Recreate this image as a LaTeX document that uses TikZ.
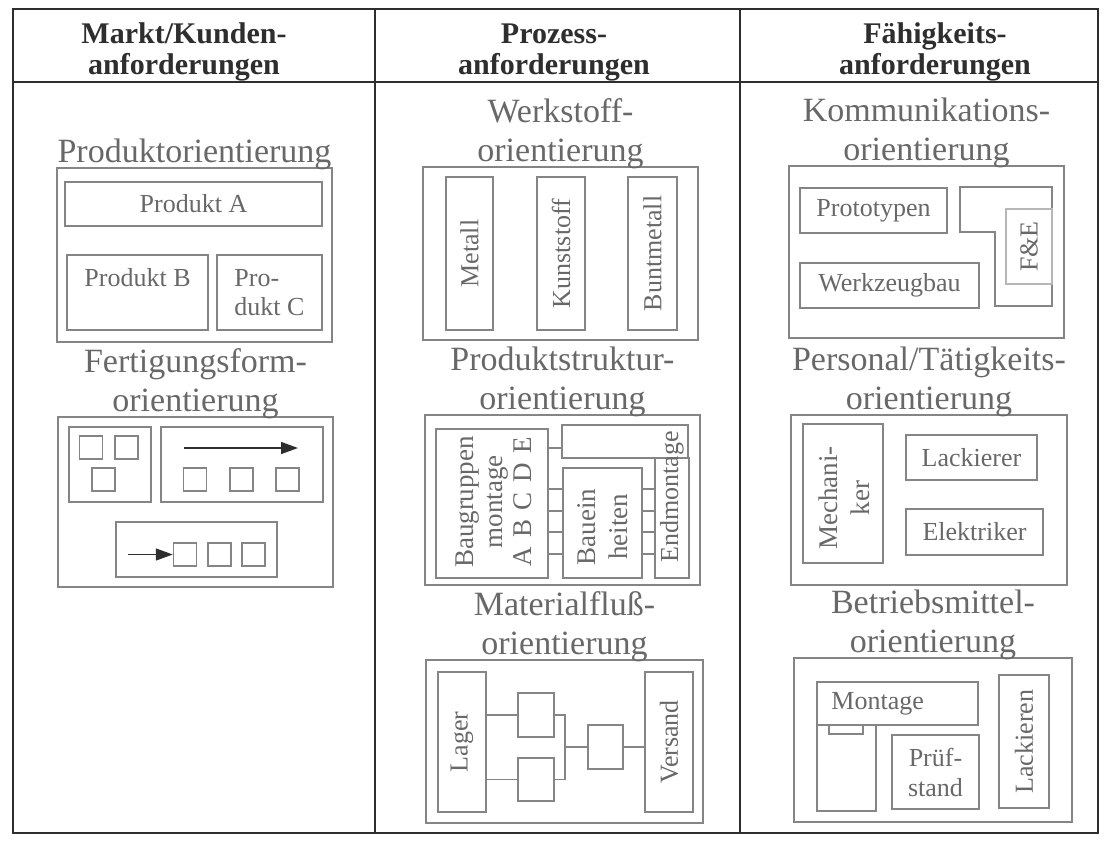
\documentclass[tikz,border=0pt]{standalone}
\usepackage{fontspec}
\setmainfont{Liberation Serif}
\usetikzlibrary{positioning, arrows.meta}

\definecolor{dunkel}{HTML}{2E2E2E}
\definecolor{linie}{HTML}{858585}
\definecolor{schrift}{HTML}{686868}

\tikzstyle{rahmen} = [draw=dunkel, line width=2.4pt]
\tikzstyle{header} = [text=dunkel, font=\bfseries\fontsize{30}{31}\selectfont, align=center, inner sep=0pt]
\tikzstyle{subtitle} = [text=schrift, font=\fontsize{34}{39}\selectfont, align=center, inner sep=0pt]
\tikzstyle{box} = [rectangle, draw=linie, line width=1.5pt, inner sep=0pt]
\tikzstyle{txt} = [text=schrift, font=\fontsize{26}{30}\selectfont, align=center, inner sep=0pt]
\tikzstyle{sq} = [rectangle, draw=linie, line width=1.5pt, minimum width=23pt, minimum height=23pt, inner sep=0pt]
\tikzstyle{link} = [draw=linie, line width=1.5pt]
\tikzstyle{pfeil} = [draw=dunkel, line width=1.6pt, -{Triangle[length=17pt,width=12pt]}]

\begin{document}
\begin{tikzpicture}[x=1pt, y=-1pt]
        \useasboundingbox (0,0) rectangle (1104,841);

        % Tabelle
        \draw [rahmen] (13,9) rectangle (1098,833);
        \draw [rahmen] (13,82) -- (1098,82);
        \draw [rahmen] (375,9) -- (375,833);
        \draw [rahmen] (740,9) -- (740,833);

        % Kopfzeile
        \node (markt) [header] at (184,52) {Markt/Kunden-\\anforderungen};
        \node (prozess) [header] at (554,52) {Prozess-\\anforderungen};
        \node (faehig) [header] at (935,52) {Fähigkeits-\\anforderungen};

        % Spalte 1: Produktorientierung
        \node (prodbox) [box, minimum width=275pt, minimum height=174pt] at (194.5,255) {};
        \node (prodtitel) [subtitle, above=-3pt of prodbox] {Produktorientierung};
        \node (prodA) [box, txt, minimum width=257pt, minimum height=44pt] at (193.5,204) {Produkt A};
        \node (prodB) [box, minimum width=141pt, minimum height=75pt] at (137.5,292.5) {};
        \node (prodC) [box, minimum width=105pt, minimum height=75pt] at (269.5,292.5) {};
        \node (txtB) [txt, below=14pt of prodB.north] {Produkt B};
        \node (txtC) [txt, align=left, font=\fontsize{26}{29}\selectfont, below=15pt of prodC.north] {Pro-\\dukt C};

        % Spalte 1: Fertigungsformorientierung
        \node (fertbox) [box, minimum width=275pt, minimum height=170pt] at (195.5,502) {};
        \node (ferttitel) [subtitle, above=-3pt of fertbox] {Fertigungsform-\\orientierung};
        \node (werkst) [box, minimum width=82pt, minimum height=75pt] at (110,464.5) {};
        \node (reihe) [box, minimum width=162pt, minimum height=75pt] at (242,464.5) {};
        \node (fliess) [box, minimum width=161pt, minimum height=55pt] at (196.5,549.5) {};
        \node (w1) [sq] at (91,447.5) {};
        \node (w2) [sq] at (126.5,447.5) {};
        \node (w3) [sq] at (103.5,479.5) {};
        \node (r1) [sq] at (195,479.5) {};
        \node (r2) [sq] at (241.5,479.5) {};
        \node (r3) [sq] at (287.5,479.5) {};
        \node (f1) [sq] at (185,554.5) {};
        \node (f2) [sq] at (219.5,554.5) {};
        \node (f3) [sq] at (253.5,554.5) {};
        \coordinate (ra) at (184,448);
        \coordinate (rb) at (298,448);
        \coordinate (fa) at (128,554.5);
        \draw [pfeil] (ra) -- (rb);
        \draw [pfeil] (fa) -- (f1.west);

        % Spalte 2: Werkstofforientierung
        \node (wbox) [box, minimum width=275pt, minimum height=173pt] at (560.5,253.5) {};
        \node (wtitel) [subtitle, above=-3pt of wbox] {Werkstoff-\\orientierung};
        \node (metall) [box, minimum width=47pt, minimum height=153pt] at (469.5,253.5) {};
        \node (kunst) [box, minimum width=48pt, minimum height=153pt] at (561,253.5) {};
        \node (bunt) [box, minimum width=49pt, minimum height=153pt] at (652.5,253.5) {};
        \node (tmetall) [txt, rotate=90] at (metall) {Metall};
        \node (tkunst) [txt, rotate=90] at (kunst) {Kunststoff};
        \node (tbunt) [txt, rotate=90] at (bunt) {Buntmetall};

        % Spalte 2: Produktstrukturorientierung
        \node (pbox) [box, minimum width=275pt, minimum height=170pt] at (562.5,500) {};
        \node (ptitel) [subtitle, above=-3pt of pbox] {Produktstruktur-\\orientierung};
        \node (baugr) [box, minimum width=112pt, minimum height=149pt] at (492,503.5) {};
        \node (topbox) [box, minimum width=126pt, minimum height=33pt] at (625,441.5) {};
        \node (bauein) [box, minimum width=79pt, minimum height=110pt] at (602.5,523) {};
        \node (endm) [box, minimum width=34pt, minimum height=120pt] at (672,518) {};
        \node (tbaugr) [txt, rotate=90, font=\fontsize{27}{29}\selectfont] at (493.5,502) {Baugruppen\\montage\\A\hspace{0.35em}B\hspace{0.35em}C\hspace{0.35em}D\hspace{0.35em}E};
        \node (tbauein) [txt, rotate=90, font=\fontsize{27}{32}\selectfont] at (602.5,527) {Bauein\\heiten};
        \node (tendm) [txt, rotate=90] at ([yshift=21pt]endm.center) {Endmontage};
        \draw [link] (baugr.east |- 0,448) -- (topbox.west |- 0,448);
        \foreach \y in {489,511,532,554} {
            \draw [link] (baugr.east |- 0,\y) -- (bauein.west |- 0,\y);
            \draw [link] (bauein.east |- 0,\y) -- (endm.west |- 0,\y);
        }

        % Spalte 2: Materialflussorientierung
        \node (mbox) [box, minimum width=277pt, minimum height=163pt] at (564.5,741.5) {};
        \node (mtitel) [subtitle, above=-3pt of mbox] {Materialfluß-\\orientierung};
        \node (lager) [box, minimum width=48pt, minimum height=140pt] at (462,742) {};
        \node (versand) [box, minimum width=48pt, minimum height=140pt] at (669,742) {};
        \node (tlager) [txt, rotate=90] at (lager) {Lager};
        \node (tversand) [txt, rotate=90] at (versand) {Versand};
        \node (mf1) [box, minimum width=36pt, minimum height=44pt] at (536,715) {};
        \node (mf2) [box, minimum width=36pt, minimum height=43pt] at (536,779.5) {};
        \node (mf3) [box, minimum width=35pt, minimum height=44pt] at (605.5,747) {};
        \coordinate (knoten) at (565,747);
        \draw [link] (lager.east |- mf1) -- (mf1.west);
        \draw [link] (lager.east |- mf2) -- (mf2.west);
        \draw [link] (mf1.east) -| (knoten) |- (mf2.east);
        \draw [link] (knoten) -- (mf3.west);
        \draw [link] (mf3.east) -- (versand.west |- mf3);

        % Spalte 3: Kommunikationsorientierung
        \node (kbox) [box, minimum width=275pt, minimum height=172pt] at (926.5,252) {};
        \node (ktitel) [subtitle, above=-3pt of kbox] {Kommunikations-\\orientierung};
        \node (proto) [box, txt, minimum width=147pt, minimum height=45pt] at (873.5,210.5) {Prototypen};
        \node (wzb) [box, txt, minimum width=179pt, minimum height=45pt] at (889.5,285.5) {Werkzeugbau};
        \draw [link] (960,187) -- (1052,187) -- (1052,306) -- (995,306) -- (995,232) -- (960,232) -- cycle;
        \node (fe) [box, txt, draw=linie!60, minimum width=46pt, minimum height=75pt] at (1029,246.5) {};
        \node (tfe) [txt, rotate=90] at (fe) {F\&E};

        % Spalte 3: Personal/Taetigkeitsorientierung
        \node (perbox) [box, minimum width=276pt, minimum height=170pt] at (929,500) {};
        \node (pertitel) [subtitle, above=-3pt of perbox] {Personal/Tätigkeits-\\orientierung};
        \node (mech) [box, minimum width=80pt, minimum height=139pt] at (843,493.5) {};
        \node (tmech) [txt, rotate=90, font=\fontsize{27}{32}\selectfont] at (844,498) {Mechani-\\ker};
        \node (lack) [box, txt, minimum width=131pt, minimum height=45pt] at (971.5,457.5) {Lackierer};
        \node (elek) [box, txt, minimum width=137pt, minimum height=46pt] at (974.5,532) {Elektriker};

        % Spalte 3: Betriebsmittelorientierung
        \node (bbox) [box, minimum width=278pt, minimum height=164pt] at (933,740) {};
        \node (btitel) [subtitle, above=-3pt of bbox] {Betriebsmittel-\\orientierung};
        \node (mont) [box, minimum width=161pt, minimum height=43pt] at (897.5,703.5) {};
        \node (tmont) [txt, right=15pt of mont.west] {Montage};
        \node (unten) [box, minimum width=59pt, minimum height=86pt] at (846.5,768) {};
        \node (kerbe) [box, minimum width=34pt, minimum height=9pt] at (846,729.5) {};
        \node (pruef) [box, txt, minimum width=87pt, minimum height=74pt] at (935.5,772) {Prüf-\\stand};
        \node (lackieren) [box, minimum width=50pt, minimum height=133pt] at (1024,741.5) {};
        \node (tlackieren) [txt, rotate=90] at (lackieren) {Lackieren};

\end{tikzpicture}
\end{document}
